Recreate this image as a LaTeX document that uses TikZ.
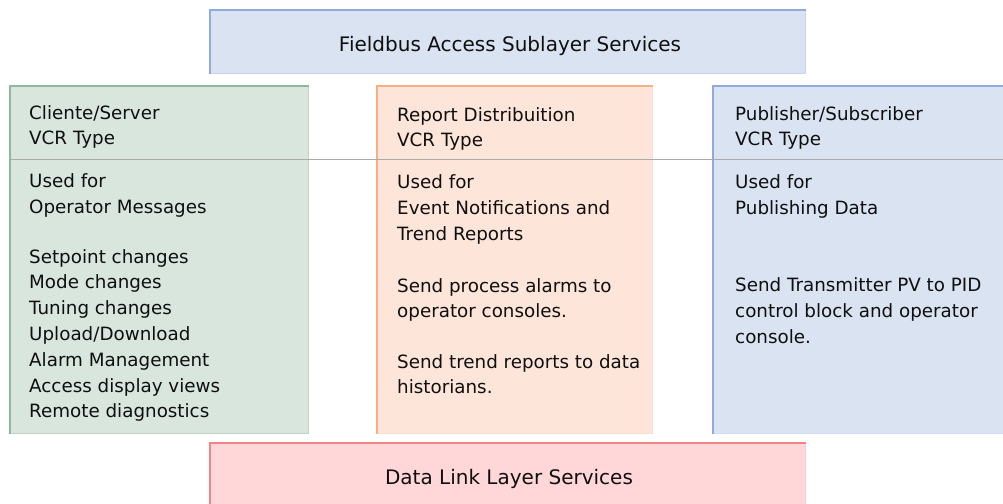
\documentclass[tikz,border=0pt]{standalone}
\usepackage{fontspec}
\setmainfont{DejaVu Sans}
\definecolor{gfill}{RGB}{216,230,222}
\definecolor{gline}{RGB}{140,185,155}
\definecolor{ofill}{RGB}{253,230,217}
\definecolor{oline}{RGB}{247,176,130}
\definecolor{bfill}{RGB}{218,227,241}
\definecolor{bline}{RGB}{143,170,220}
\definecolor{rfill}{RGB}{255,215,217}
\definecolor{rline}{RGB}{246,131,131}
\definecolor{sepc}{RGB}{170,170,170}
\definecolor{txt}{RGB}{15,15,15}
\tikzset{
  panel/.style={inner sep=0pt, anchor=north west, outer sep=0pt},
  bodytext/.style={inner sep=0pt, anchor=base west, text=txt, font=\fontsize{18.3}{22}\selectfont},
  titletext/.style={text=txt, font=\fontsize{20}{24}\selectfont},
  edge/.style={line width=2.2pt, line cap=rect}
}
\newcommand\bodyline[4]{\node[bodytext] (#1) at (#2,#3) {#4};}
\begin{document}
\begin{tikzpicture}[x=1pt,y=-1pt]
\useasboundingbox (0,0) rectangle (1003,503);
\begin{scope}
\clip (0,0) rectangle (1003,503);
% panels
\node[panel, fill=bfill, minimum width=595pt, minimum height=63pt] (top) at (210,10) {};
\node[panel, fill=gfill, minimum width=298pt, minimum height=347pt] (green) at (10,86) {};
\node[panel, fill=ofill, minimum width=275pt, minimum height=347pt] (orange) at (377,86) {};
\node[panel, fill=bfill, minimum width=295pt, minimum height=347pt] (blue) at (713,86) {};
\node[panel, fill=rfill, minimum width=595pt, minimum height=63pt] (bottom) at (210,443) {};
% faint outer borders
\draw[bline!50, line width=0.8pt] (top.north west) rectangle (top.south east);
\draw[gline!60, line width=0.8pt] (green.north west) rectangle (green.south east);
\draw[oline!40, line width=0.8pt] (orange.north west) rectangle (orange.south east);
\draw[bline!40, line width=0.8pt] (blue.north west) rectangle (blue.south east);
\draw[rline!40, line width=0.8pt] (bottom.north west) rectangle (bottom.south east);
% strong top/left borders
\draw[edge, bline] (top.south west) -- (top.north west) -- (top.north east);
\draw[edge, gline] (green.south west) -- (green.north west) -- (green.north east);
\draw[edge, oline] (orange.south west) -- (orange.north west) -- (orange.north east);
\draw[edge, bline] (blue.south west) -- (blue.north west) -- (blue.north east);
\draw[edge, rline] (bottom.south west) -- (bottom.north west) -- (bottom.north east);
\end{scope}
% separator
\coordinate (sepL) at (10,159);
\coordinate (sepR) at (1003,159);
\draw[sepc, line width=1pt] (sepL) -- (sepR);
% titles
\node[titletext, anchor=base] (toptitle) at (510,52) {Fieldbus Access Sublayer Services};
\node[titletext, anchor=base] (bottomtitle) at (509,484) {Data Link Layer Services};
% green column
\bodyline{g1}{29}{119}{Cliente/Server}
\bodyline{g2}{29}{144}{VCR Type}
\bodyline{g3}{29}{187}{Used for}
\bodyline{g4}{29}{213}{Operator Messages}
\bodyline{g5}{29}{263}{Setpoint changes}
\bodyline{g6}{29}{288.8}{Mode changes}
\bodyline{g7}{29}{314.6}{Tuning changes}
\bodyline{g8}{29}{340.4}{Upload/Download}
\bodyline{g9}{29}{366.2}{Alarm Management}
\bodyline{g10}{29}{392}{Access display views}
\bodyline{g11}{29}{417.8}{Remote diagnostics}
% orange column
\bodyline{o1}{397}{121}{Report Distribuition}
\bodyline{o2}{397}{146}{VCR Type}
\bodyline{o3}{397}{188}{Used for}
\bodyline{o4}{397}{214}{Event Notifications and}
\bodyline{o5}{397}{240}{Trend Reports}
\bodyline{o6}{397}{292.5}{Send process alarms to}
\bodyline{o7}{397}{317.5}{operator consoles.}
\bodyline{o8}{397}{368}{Send trend reports to data}
\bodyline{o9}{397}{393}{historians.}
% blue column
\bodyline{b1}{735}{120}{Publisher/Subscriber}
\bodyline{b2}{735}{145}{VCR Type}
\bodyline{b3}{735}{188}{Used for}
\bodyline{b4}{735}{214}{Publishing Data}
\bodyline{b5}{735}{291}{Send Transmitter PV to PID}
\bodyline{b6}{735}{317}{control block and operator}
\bodyline{b7}{735}{343}{console.}
\end{tikzpicture}
\end{document}
